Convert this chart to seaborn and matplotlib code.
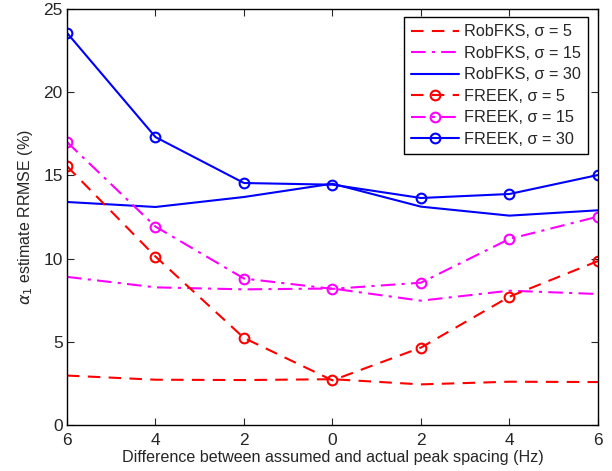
import matplotlib
matplotlib.use("Agg")
import matplotlib.pyplot as plt
import seaborn as sns
import pandas as pd
import numpy as np

x_labels = ["6", "4", "2", "0", "2", "4", "6"]
x_pos = list(range(len(x_labels)))

rob_5 = [2.97, 2.72, 2.70, 2.75, 2.44, 2.60, 2.58]
rob_15 = [8.90, 8.27, 8.15, 8.20, 7.47, 8.07, 7.87]
rob_30 = [13.40, 13.10, 13.70, 14.50, 13.12, 12.58, 12.90]
freek_5 = [15.55, 10.12, 5.23, 2.68, 4.65, 7.71, 9.85]
freek_15 = [17.00, 11.92, 8.80, 8.18, 8.55, 11.18, 12.52]
freek_30 = [23.56, 17.30, 14.54, 14.44, 13.64, 13.88, 15.02]

series = [
    ("RobFKS, σ = 5", rob_5, "#ff0000", (0, (6, 4)), None),
    ("RobFKS, σ = 15", rob_15, "#ff00ff", (0, (7, 3, 1.5, 3)), None),
    ("RobFKS, σ = 30", rob_30, "#0000ff", "-", None),
    ("FREEK, σ = 5", freek_5, "#ff0000", (0, (6, 4)), "o"),
    ("FREEK, σ = 15", freek_15, "#ff00ff", (0, (7, 3, 1.5, 3)), "o"),
    ("FREEK, σ = 30", freek_30, "#0000ff", "-", "o"),
]

sns.set_style("ticks")
plt.rcParams["font.family"] = ["Liberation Sans", "DejaVu Sans"]

fig = plt.figure(figsize=(6.12, 4.71), dpi=100)
ax = fig.add_axes([0.1095, 0.0977, 0.8675, 0.8833])

for label, vals, color, ls, marker in series:
    df = pd.DataFrame({"x": x_pos, "y": vals})
    sns.lineplot(data=df, x="x", y="y", ax=ax, color=color, linestyle=ls,
                 marker=marker, markersize=7, markerfacecolor="none",
                 markeredgecolor=color, markeredgewidth=1.5, linewidth=1.5,
                 label=label)

ax.set_xlim(0, 6)
ax.set_ylim(0, 25)
ax.set_xticks(x_pos)
ax.set_xticklabels(x_labels)
ax.set_yticks([0, 5, 10, 15, 20, 25])
ax.tick_params(direction="in", top=True, right=True, labelsize=12.5, length=5, width=0.8)
ax.tick_params(axis="x", pad=6)
ax.tick_params(axis="y", pad=3)
for s in ax.spines.values():
    s.set_linewidth(1.0)
    s.set_color("black")
ax.set_xlabel("Difference between assumed and actual peak spacing (Hz)", fontsize=11.6, labelpad=1.5)
ax.set_ylabel(r"$\alpha_1$ estimate RRMSE (%)", fontsize=11.5, labelpad=6)

leg = ax.legend(loc="upper right", bbox_to_anchor=(588 / 612, (471 - 17) / 471),
                bbox_transform=fig.transFigure, borderaxespad=0,
                fontsize=11.7, frameon=True, fancybox=False,
                edgecolor="black", framealpha=1,
                handlelength=2.95, labelspacing=0.4, borderpad=0.45, handletextpad=0.3)
leg.get_frame().set_linewidth(1.0)

fig.savefig("out.png", dpi=100)
